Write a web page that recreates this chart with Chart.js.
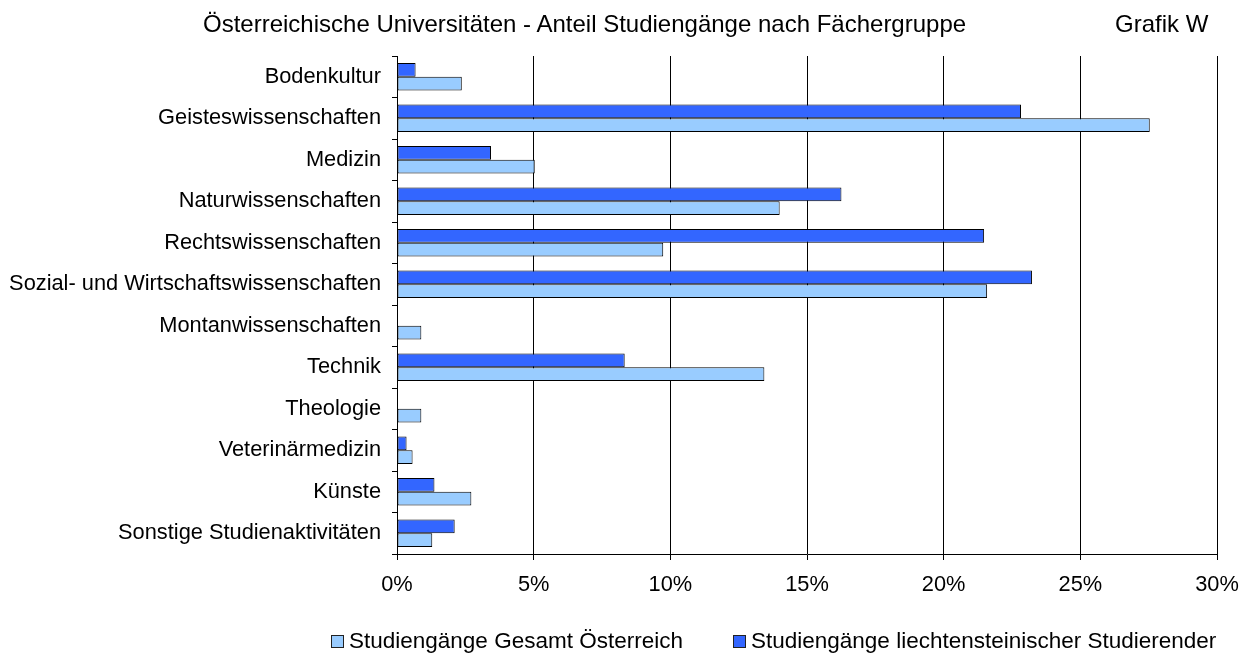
<!DOCTYPE html>
<html>
<head>
<meta charset="utf-8">
<script src="https://cdn.jsdelivr.net/npm/chart.js@4.4.1/dist/chart.umd.min.js"></script>
<style>
  html, body { margin: 0; padding: 0; background: #fff; }
  body { font-family: 'Liberation Sans', Arial, sans-serif; color: #000; }
  #wrap { position: relative; width: 1252px; height: 658px; overflow: hidden; }
  #chart { position: absolute; left: 0; top: 0; }
  .txt { position: absolute; white-space: nowrap; }
  .ttl { font-size: 24px; line-height: 28px; }
  .lg { font-size: 22.5px; line-height: 26px; }
  .lg-box { position: absolute; width: 11px; height: 11px; border: 1px solid #222; }
</style>
</head>
<body>
<div id="wrap">
  <canvas id="chart" width="1252" height="658"></canvas>
  <div class="txt ttl" style="left:203px; top:10px;">Österreichische Universitäten - Anteil Studiengänge nach Fächergruppe</div>
  <div class="txt ttl" style="left:1115px; top:10px;">Grafik W</div>
  <div class="lg-box" style="left:331px; top:635px; background:#99ccff;"></div>
  <div class="txt lg" style="left:349px; top:628px;">Studiengänge Gesamt Österreich</div>
  <div class="lg-box" style="left:733px; top:635px; background:#3366ff;"></div>
  <div class="txt lg" style="left:751px; top:628px;">Studiengänge liechtensteinischer Studierender</div>
</div>
<script>
const CATEGORIES = [
  'Bodenkultur', 'Geisteswissenschaften', 'Medizin', 'Naturwissenschaften',
  'Rechtswissenschaften', 'Sozial- und Wirtschaftswissenschaften', 'Montanwissenschaften',
  'Technik', 'Theologie', 'Veterinärmedizin', 'Künste', 'Sonstige Studienaktivitäten'
];
// Anteil in %
const GESAMT_AT     = [2.37, 27.54, 5.04, 14.0, 9.74, 21.59, 0.89, 13.44, 0.89, 0.57, 2.72, 1.29];
const LIECHTENSTEIN = [0.68, 22.83, 3.44, 16.26, 21.48, 23.23, 0, 8.33, 0, 0.35, 1.37, 2.11];
const X_TICKS = [0, 5, 10, 15, 20, 25, 30];

const FONT = { family: "'Liberation Sans', Arial, sans-serif", size: 21.8 };

new Chart(document.getElementById('chart').getContext('2d'), {
  type: 'bar',
  data: {
    labels: CATEGORIES,
    datasets: [
      {
        label: 'Studiengänge liechtensteinischer Studierender',
        data: LIECHTENSTEIN,
        backgroundColor: '#3366ff',
        borderColor: '#000',
        borderWidth: 1,
        borderSkipped: false,
      },
      {
        label: 'Studiengänge Gesamt Österreich',
        data: GESAMT_AT,
        backgroundColor: '#99ccff',
        borderColor: '#000',
        borderWidth: 1,
        borderSkipped: false,
      }
    ]
  },
  options: {
    indexAxis: 'y',
    responsive: false,
    animation: false,
    categoryPercentage: 0.66,
    barPercentage: 1.0,
    layout: { padding: { top: 56, left: 10, right: 35, bottom: 61 } },
    plugins: {
      legend: { display: false },
      title: { display: false },
      tooltip: { enabled: false }
    },
    scales: {
      x: {
        min: X_TICKS[0],
        max: X_TICKS[X_TICKS.length - 1],
        afterBuildTicks: s => { s.ticks = X_TICKS.map(v => ({ value: v })); },
        afterFit: s => { s.height = 43; },
        ticks: {
          color: '#000',
          font: FONT,
          padding: 12,
          callback: v => v + '%'
        },
        grid: { color: '#000', lineWidth: 1, tickLength: 6 },
        border: { color: '#000', width: 1 }
      },
      y: {
        afterFit: s => { s.width = 387; },
        ticks: { color: '#000', font: FONT, padding: 11 },
        grid: {
          offset: true,
          drawOnChartArea: false,
          color: '#000',
          tickLength: 5
        },
        border: { color: '#000', width: 1 }
      }
    }
  }
});
</script>
</body>
</html>
